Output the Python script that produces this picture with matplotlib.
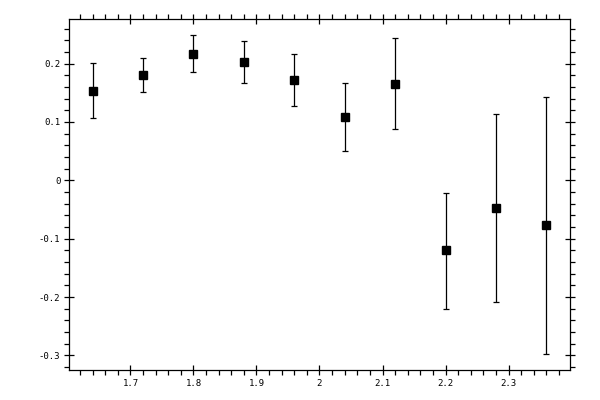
import numpy as np
import matplotlib.pyplot as plt
from matplotlib.ticker import MultipleLocator, FuncFormatter

# data
x = [1.64, 1.72, 1.80, 1.88, 1.96, 2.04, 2.12, 2.20, 2.28, 2.36]
y = [0.153, 0.180, 0.216, 0.202, 0.171, 0.108, 0.165, -0.120, -0.048, -0.077]
y_hi = [0.201, 0.210, 0.249, 0.238, 0.216, 0.166, 0.244, -0.021, 0.113, 0.142]
y_lo = [0.106, 0.151, 0.185, 0.166, 0.127, 0.050, 0.088, -0.221, -0.209, -0.297]

y = np.array(y)
err = [y - np.array(y_lo), np.array(y_hi) - y]

fig = plt.figure(figsize=(6, 4), dpi=100)
ax = fig.add_axes([0.1155, 0.075, 0.835, 0.877])

ax.errorbar(x, y, yerr=err, fmt='s', color='black', ms=5.5,
            elinewidth=0.9, capsize=2.5, capthick=0.9)

ax.set_xlim(1.603, 2.398)
ax.set_ylim(-0.325, 0.276)

ax.xaxis.set_major_locator(MultipleLocator(0.1))
ax.xaxis.set_minor_locator(MultipleLocator(0.02))
ax.yaxis.set_major_locator(MultipleLocator(0.1))
ax.yaxis.set_minor_locator(MultipleLocator(0.02))

def fmt(v, pos):
    s = '%.1f' % v
    if s == '-0.0':
        s = '0.0'
    if s.endswith('.0'):
        s = s[:-2]
    return s

ax.xaxis.set_major_formatter(FuncFormatter(fmt))
ax.yaxis.set_major_formatter(FuncFormatter(fmt))

for s in ax.spines.values():
    s.set_linewidth(0.9)

ax.tick_params(which='major', direction='inout', length=7, width=0.9,
               top=True, right=True, labelsize=6.5, pad=3)
ax.tick_params(which='minor', direction='out', length=3.5, width=0.9,
               top=True, right=True)
for lab in ax.get_xticklabels() + ax.get_yticklabels():
    lab.set_family('DejaVu Sans Mono')

fig.savefig('out.png', dpi=100)
